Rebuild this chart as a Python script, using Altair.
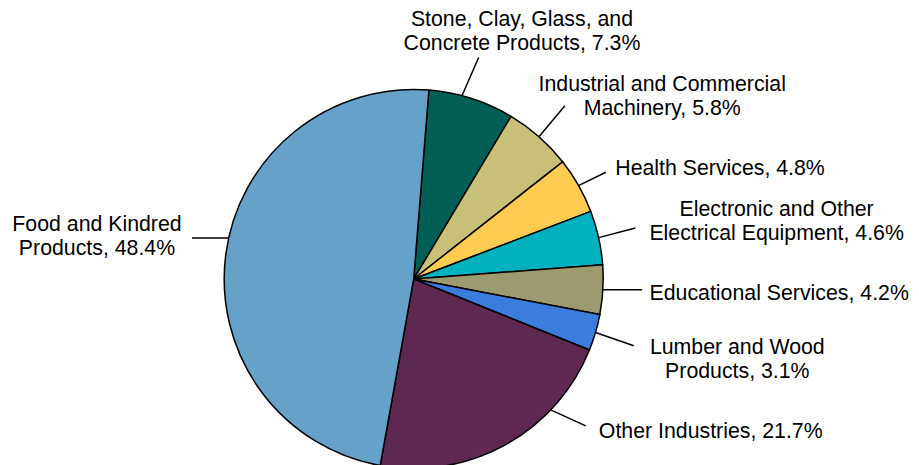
import math
import pandas as pd
import altair as alt

# ---- data ----
categories = [
    "Stone, Clay, Glass, and Concrete Products",
    "Industrial and Commercial Machinery",
    "Health Services",
    "Electronic and Other Electrical Equipment",
    "Educational Services",
    "Lumber and Wood Products",
    "Other Industries",
    "Food and Kindred Products",
]
shares = [7.3, 5.8, 4.8, 4.6, 4.2, 3.1, 21.7, 48.4]
label_lines = [
    ["Stone, Clay, Glass, and", "Concrete Products, 7.3%"],
    ["Industrial and Commercial", "Machinery, 5.8%"],
    ["Health Services, 4.8%"],
    ["Electronic and Other", "Electrical Equipment, 4.6%"],
    ["Educational Services, 4.2%"],
    ["Lumber and Wood", "Products, 3.1%"],
    ["Other Industries, 21.7%"],
    ["Food and Kindred", "Products, 48.4%"],
]

# ---- styles / layout ----
colors = ["#005F55", "#C8C078", "#FFCB50", "#00B2BF", "#9C9A6E", "#3B7DDD", "#5E2850", "#65A1C9"]
W, H = 903, 457
CX, CY = 405.7, 271.0       # pie centre inside the plot area
R = 189.5                   # pie radius
START_DEG = 4.6             # first slice starts just right of 12 o'clock
lead_shift_deg = [-3.0, 0.0, 0.0, 0.0, 0.0, 0.0, -17.4, 5.1]
lead_vec = [(16.7, -38.3), (26, -31), (27.3, -13.3), (36.7, -9.7),
            (39.3, 0), (38.3, 13.3), (35, 16), (-36.7, 0)]
text_off = [(43.3, -31.3), (97.3, -15), (114.2, 2.3), (141.3, -12),
            (137.0, 10), (103.5, 8.4), (125, 12.4), (-95, -7)]

total = sum(shares)
rows = []
cum = 0.0
for i, (c, v) in enumerate(zip(categories, shares)):
    mid = START_DEG + (cum + v / 2) / total * 360.0
    cum += v
    a = math.radians(mid + lead_shift_deg[i])
    x0 = CX + R * math.sin(a)
    y0 = CY - R * math.cos(a)
    x1 = x0 + lead_vec[i][0]
    y1 = y0 + lead_vec[i][1]
    rows.append(dict(idx=i, category=c, share=v, label=label_lines[i],
                     lx0=x0, ly0=y0, lx1=x1, ly1=y1,
                     tx=x1 + text_off[i][0], ty=y1 + text_off[i][1]))
df = pd.DataFrame(rows)

a0 = math.radians(START_DEG)
base = alt.Chart(df)

pie = base.mark_arc(radius=R, stroke="black", strokeWidth=1.5).encode(
    theta=alt.Theta("share:Q", stack=True,
                    scale=alt.Scale(range=[a0, a0 + 2 * math.pi])),
    order=alt.Order("idx:Q"),
    color=alt.Color("category:N", scale=alt.Scale(domain=categories, range=colors), legend=None),
    x=alt.value(CX),
    y=alt.value(CY),
)

leaders = base.mark_rule(color="black", strokeWidth=1.5).encode(
    x=alt.X("lx0:Q", scale=None, axis=None),
    y=alt.Y("ly0:Q", scale=None, axis=None),
    x2="lx1:Q",
    y2="ly1:Q",
)

labels = base.mark_text(align="center", baseline="alphabetic", fontSize=21.3,
                        font="Liberation Sans", lineHeight=24, color="black").encode(
    x=alt.X("tx:Q", scale=None, axis=None),
    y=alt.Y("ty:Q", scale=None, axis=None),
    text="label",
)

chart = alt.layer(pie, leaders, labels).properties(
    width=W, height=H, padding=0, autosize=alt.AutoSizeParams(type="none")
).configure_view(stroke=None)

chart.save("out.html", embed_options={"renderer": "svg", "actions": False})
